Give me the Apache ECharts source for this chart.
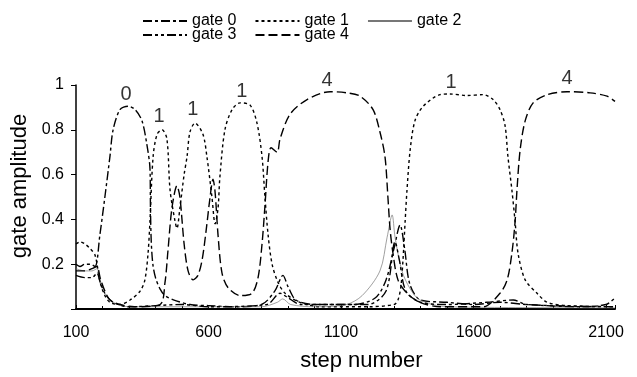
<!DOCTYPE html>
<html>
<head>
<meta charset="utf-8">
<script src="https://cdn.jsdelivr.net/npm/echarts@6/dist/echarts.min.js"></script>
<style>
  html, body { margin: 0; padding: 0; background: #fff; }
  #chart { width: 637px; height: 377px; }
</style>
</head>
<body>
<div id="chart"></div>
<script>
// [step, amplitude]
var gate0 = [[100,0.2],[115,0.19],[134,0.2],[153,0.2],[172,0.19],[190,0.33],[209,0.5],[228,0.68],[240,0.8],[266,0.89],[296,0.905],[323,0.89],[349,0.84],[368,0.73],[379,0.63],[381,0.45],[384,0.3],[390,0.2],[400,0.14],[417,0.09],[436,0.06],[470,0.04],[530,0.02],[600,0.015],[700,0.01],[800,0.02],[850,0.08],[881,0.15],[900,0.1],[930,0.04],[1000,0.02],[1150,0.02],[1230,0.05],[1270,0.13],[1300,0.27],[1323,0.375],[1340,0.27],[1360,0.11],[1400,0.04],[1500,0.03],[1600,0.02],[1700,0.03],[1800,0.02],[2000,0.01],[2100,0.02],[2134,0.05]];
var gate1 = [[100,0.29],[115,0.3],[134,0.29],[153,0.27],[172,0.24],[191,0.12],[209,0.06],[228,0.03],[266,0.02],[304,0.04],[342,0.08],[360,0.13],[372,0.25],[379,0.39],[391,0.68],[406,0.78],[425,0.8],[443,0.76],[455,0.53],[474,0.39],[481,0.36],[492,0.45],[508,0.6],[519,0.68],[530,0.79],[549,0.83],[579,0.78],[594,0.68],[613,0.5],[625,0.38],[636,0.45],[643,0.59],[662,0.8],[689,0.89],[719,0.92],[757,0.91],[783,0.83],[802,0.68],[813,0.5],[825,0.33],[840,0.2],[862,0.12],[889,0.07],[945,0.03],[1021,0.01],[1200,0.01],[1300,0.02],[1315,0.04],[1326,0.1],[1334,0.22],[1342,0.39],[1349,0.53],[1361,0.71],[1379,0.84],[1410,0.905],[1474,0.957],[1511,0.96],[1576,0.953],[1636,0.957],[1674,0.935],[1700,0.89],[1719,0.82],[1730,0.68],[1745,0.53],[1757,0.39],[1768,0.25],[1795,0.13],[1840,0.07],[1878,0.03],[1953,0.015],[2134,0.01]];
var gate2 = [[100,0.18],[134,0.17],[160,0.17],[179,0.18],[191,0.13],[209,0.07],[240,0.03],[300,0.01],[800,0.01],[860,0.03],[880,0.045],[910,0.02],[1000,0.01],[1120,0.02],[1180,0.06],[1247,0.17],[1274,0.32],[1293,0.42],[1304,0.32],[1330,0.17],[1361,0.09],[1398,0.04],[1500,0.01],[2134,0.005]];
var gate3 = [[100,0.15],[134,0.14],[160,0.14],[179,0.16],[191,0.12],[209,0.07],[240,0.03],[300,0.01],[500,0.02],[600,0.01],[820,0.02],[870,0.07],[900,0.05],[950,0.02],[1200,0.02],[1270,0.08],[1304,0.3],[1320,0.22],[1345,0.08],[1400,0.03],[1500,0.02],[1650,0.03],[1750,0.04],[1800,0.02],[2134,0.01]];
var gate4 = [[100,0.17],[134,0.17],[160,0.18],[179,0.19],[191,0.14],[209,0.08],[228,0.04],[266,0.02],[320,0.01],[417,0.02],[436,0.12],[447,0.26],[462,0.45],[481,0.55],[492,0.5],[508,0.29],[523,0.17],[542,0.13],[560,0.15],[576,0.22],[591,0.35],[606,0.5],[617,0.58],[625,0.52],[636,0.33],[651,0.16],[674,0.095],[719,0.06],[764,0.07],[787,0.14],[802,0.29],[813,0.46],[825,0.66],[836,0.72],[859,0.7],[870,0.76],[908,0.87],[972,0.935],[1059,0.97],[1123,0.965],[1172,0.95],[1221,0.89],[1247,0.79],[1266,0.68],[1277,0.5],[1285,0.36],[1296,0.25],[1315,0.13],[1349,0.07],[1398,0.03],[1474,0.01],[1636,0.01],[1700,0.07],[1727,0.13],[1745,0.25],[1757,0.39],[1764,0.53],[1776,0.71],[1795,0.84],[1825,0.92],[1878,0.957],[1953,0.97],[2040,0.965],[2104,0.95],[2134,0.927]];

// which gate wins each stretch: [step, amplitude, text]
var winnerLabels = [[289,0.957,'0'],[413,0.858,'1'],[541,0.892,'1'],[726,0.97,'1'],[1047,1.02,'4'],[1515,1.013,'1'],[1953,1.03,'4']];

var xTicks = [100, 600, 1100, 1600, 2100];

var FONT = '"Liberation Sans", Arial, sans-serif';

function gateSeries(name, data, dash, color, width) {
  return {
    name: name,
    type: 'line',
    data: data,
    symbol: 'none',
    smooth: 0.3,
    lineStyle: { color: color, width: width, type: dash },
    itemStyle: { color: color },
    z: 2
  };
}

function legendRow(top, names) {
  return {
    left: 137, top: top, itemWidth: 44, itemHeight: 10, itemGap: 18,
    data: names,
    itemStyle: { opacity: 0 },
    textStyle: { fontFamily: FONT, fontSize: 16, color: '#000' }
  };
}

var chart = echarts.init(document.getElementById('chart'));

chart.setOption({
  animation: false,
  backgroundColor: '#fff',
  grid: { left: 76, right: 22, top: 85, bottom: 60 },
  legend: [
    legendRow(8, ['gate 0', 'gate 1', 'gate 2']),
    legendRow(22, ['gate 3', 'gate 4'])
  ],
  xAxis: {
    type: 'value',
    min: 100,
    max: 2134,
    interval: 500,
    name: 'step number',
    nameLocation: 'middle',
    nameGap: 41,
    nameTextStyle: { fontFamily: FONT, fontSize: 22, color: '#000', padding: [0, 0, 0, 32] },
    axisLine: { lineStyle: { color: '#000', width: 2 } },
    axisTick: { inside: true, length: 4, lineStyle: { color: '#000' } },
    minorTick: { show: true, splitNumber: 5, length: 3, lineStyle: { color: '#000' } },
    splitLine: { show: false },
    axisLabel: {
      margin: 16,
      fontFamily: FONT, fontSize: 16, color: '#000',
      showMaxLabel: false,
      formatter: function (v) { return xTicks.indexOf(v) >= 0 ? String(v) : ''; }
    }
  },
  yAxis: {
    type: 'value',
    min: 0,
    max: 1,
    interval: 0.2,
    name: 'gate amplitude',
    nameLocation: 'middle',
    nameGap: 42,
    nameTextStyle: { fontFamily: FONT, fontSize: 22, color: '#000', padding: [0, 0, 0, 22] },
    axisLine: { show: true, lineStyle: { color: '#000', width: 1.5 } },
    axisTick: { show: true, length: 5, lineStyle: { color: '#000' } },
    splitLine: { show: false },
    axisLabel: {
      margin: 12,
      fontFamily: FONT, fontSize: 16, color: '#000',
      formatter: function (v) { return v === 0 ? '' : String(Math.round(v * 10) / 10); }
    }
  },
  series: [
    gateSeries('gate 0', gate0, [9, 3, 3, 3], '#000', 1.4),
    gateSeries('gate 1', gate1, [3, 3], '#000', 1.4),
    gateSeries('gate 2', gate2, 'solid', '#777', 0.7),
    gateSeries('gate 3', gate3, [9, 3, 3, 3, 3, 3], '#000', 1.4),
    gateSeries('gate 4', gate4, [9, 4], '#000', 1.4),
    {
      name: 'winner',
      type: 'scatter',
      data: winnerLabels,
      symbolSize: 0,
      clip: false,
      silent: true,
      label: {
        show: true,
        position: 'inside',
        formatter: function (p) { return p.data[2]; },
        fontFamily: FONT, fontSize: 20, color: '#000'
      },
      z: 5
    }
  ]
});
</script>
</body>
</html>
